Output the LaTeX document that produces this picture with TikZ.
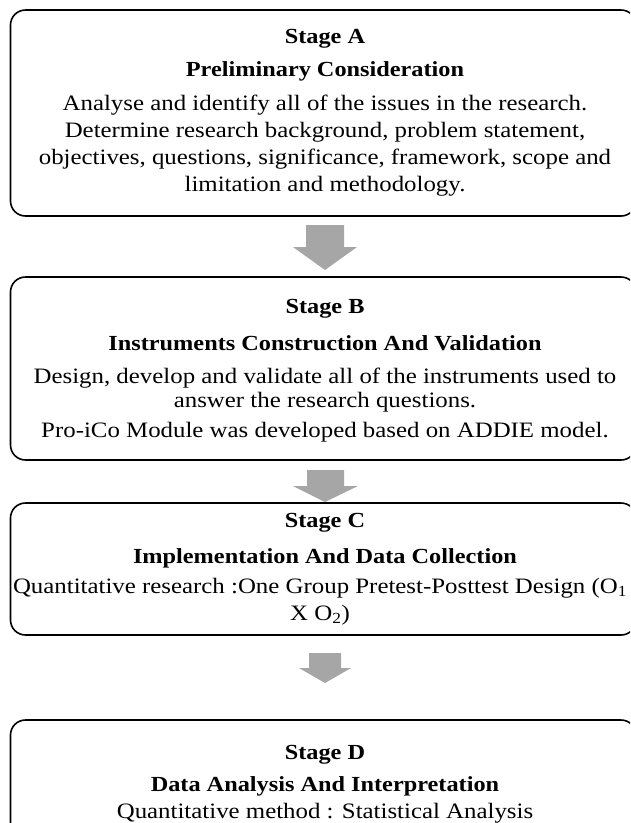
\documentclass[tikz,border=0pt]{standalone}
\usepackage{fontspec}
\setmainfont{Liberation Serif}[FakeStretch=1.13]
\definecolor{arrowgray}{RGB}{166,166,166}
\tikzset{
  stagebox/.style={draw, line width=1.6pt, rounded corners=15pt},
  blockarrow/.style={fill=arrowgray, draw=none},
  stagehead/.style={font=\bfseries\fontsize{21.5}{26}\selectfont, inner sep=0pt},
  stagetext/.style={align=center, font=\fontsize{22}{27}\selectfont, inner sep=0pt}
}
\begin{document}
\begin{tikzpicture}[x=1pt,y=-1pt]
                \useasboundingbox (0,0) rectangle (630,823);
                \clip (0,0) rectangle (630,823);

                % Drawing box of stage A
                \draw [stagebox] (10.5,10) rectangle (636,216);%

                % Drawing box of stage B
                \draw [stagebox] (10.5,277) rectangle (636,460);%

                % Drawing box of stage C
                \draw [stagebox] (10.5,503) rectangle (636,635);%

                % Drawing box of stage D
                \draw [stagebox] (10.5,720) rectangle (636,870);%

                % Drawing arrow A to B
                \fill [blockarrow] (306,225) -- (344,225) -- (344,247) -- (357,247) -- (325,270) -- (293,247) -- (306,247) -- cycle;%

                % Drawing arrow B to C
                \fill [blockarrow] (307,470) -- (344,470) -- (344,486) -- (358,486) -- (325,502) -- (293,486) -- (307,486) -- cycle;%

                % Drawing arrow C to D
                \fill [blockarrow] (309,653) -- (341,653) -- (341,668) -- (351,668) -- (325,683) -- (299,668) -- (309,668) -- cycle;%

                % Marking stage A
                \node [stagehead] (headA) at (325,39) {Stage A};%
                \node [stagehead] (titleA) at (325,71) {Preliminary Consideration};%
                \node [stagetext] (textA) at (325,146) {Analyse and identify all of the issues in the research.\\
                  Determine research background, problem statement,\\
                  objectives, questions, significance, framework, scope and\\
                  limitation and methodology.};%

                % Marking stage B
                \node [stagehead] (headB) at (325,309) {Stage B};%
                \node [stagehead] (titleB) at (325,343) {Instruments Construction And Validation};%
                \node [stagetext, font=\fontsize{22}{24}\selectfont] (textB) at (325,390) {Design, develop and validate all of the instruments used to\\
                  answer the research questions.};%
                \node [stagetext] (noteB) at (325,432) {Pro-iCo Module was developed based on ADDIE model.};%

                % Marking stage C
                \node [stagehead] (headC) at (325,523) {Stage C};%
                \node [stagehead] (titleC) at (325,558) {Implementation And Data Collection};%
                \node [stagetext] (textC) at (320,601.5) {Quantitative research :One Group Pretest-Posttest Design (O\textsubscript{1}\\
                  X O\textsubscript{2})};%

                % Marking stage D
                \node [stagehead] (headD) at (325,755) {Stage D};%
                \node [stagehead] (titleD) at (325,786) {Data Analysis And Interpretation};%
                \node [stagetext] (textD) at (325,813) {Quantitative method : Statistical Analysis};%
            \end{tikzpicture}
\end{document}
